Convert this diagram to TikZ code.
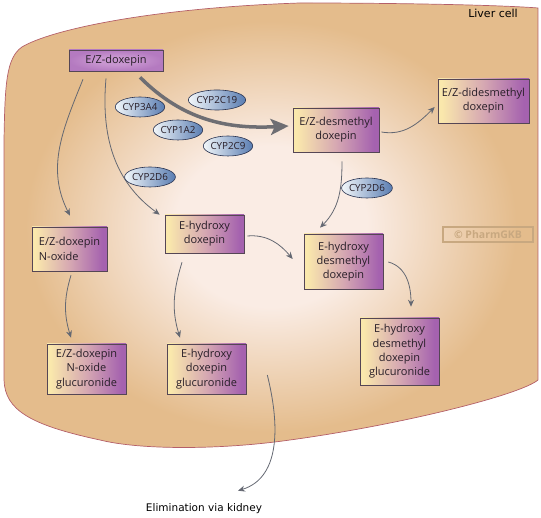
\documentclass[tikz,border=0pt]{standalone}
\usepackage{fontspec}
\setmainfont{Open Sans}
\newfontfamily\handfont{DejaVu Sans}
\usetikzlibrary{arrows.meta,shapes.geometric}

\definecolor{tanC}{RGB}{228,188,140}
\definecolor{lightC}{RGB}{250,236,228}
\definecolor{cellB}{RGB}{180,95,105}
\definecolor{boxY}{RGB}{250,232,172}
\definecolor{boxM}{RGB}{214,168,178}
\definecolor{boxP}{RGB}{165,98,175}
\definecolor{boxB}{RGB}{85,70,85}
\definecolor{doxIn}{RGB}{200,150,208}
\definecolor{doxOut}{RGB}{180,122,192}
\definecolor{enzL}{RGB}{242,247,250}
\definecolor{enzR}{RGB}{90,125,178}
\definecolor{enzB}{RGB}{40,50,80}
\definecolor{arrC}{RGB}{100,104,114}
\definecolor{bigC}{RGB}{110,110,115}
\definecolor{textC}{RGB}{40,30,40}
\definecolor{wmC}{RGB}{200,168,128}

\pgfdeclareradialshading{cellsh}{\pgfpoint{0bp}{0bp}}{color(0bp)=(lightC); color(9bp)=(lightC); color(23bp)=(tanC); color(50bp)=(tanC)}
\pgfdeclarehorizontalshading{boxsh}{100bp}{color(0bp)=(boxY); color(27bp)=(boxY); color(50bp)=(boxM); color(72bp)=(boxP); color(100bp)=(boxP)}
\pgfdeclareradialshading{doxsh}{\pgfpoint{0bp}{0bp}}{color(0bp)=(doxIn); color(10bp)=(doxIn); color(25bp)=(doxOut); color(50bp)=(doxOut)}

\tikzset{
  metab/.style={draw=boxB, line width=0.6pt, shade, shading=boxsh, align=center,
    inner sep=0pt, text=textC, font=\fontsize{11}{14.3}\selectfont},
  enz/.style={ellipse, draw=enzB, line width=0.6pt, left color=enzL, right color=enzR,
    minimum width=49pt, minimum height=20pt, inner sep=0pt, text=textC,
    font=\fontsize{9.8}{11}\selectfont},
  arr/.style={draw=arrC, line width=0.8pt, -{Stealth[length=7pt,width=6pt]}},
  bigarr/.style={draw=bigC, line width=3.5pt, -{Stealth[length=18pt,width=16pt,inset=4pt]}},
  handtext/.style={text=black, font=\handfont\fontsize{10.5}{12}\selectfont, inner sep=0pt},
}

\begin{document}
\begin{tikzpicture}[x=1pt,y=1pt]
\useasboundingbox (0,0) rectangle (541,518);

% liver cell
\path[draw=cellB, line width=0.7pt, shade, shading=cellsh]
  (4,378) .. controls (5,433) and (6,460) .. (22,471)
  .. controls (50,488) and (150,510) .. (300,515)
  .. controls (400,515) and (500,513) .. (538,510)
  -- (538,138)
  .. controls (520,123) and (400,93) .. (290,78)
  .. controls (220,68) and (140,68) .. (100,78)
  .. controls (30,93) and (5,108) .. (4,138) -- cycle;

\node[handtext, font=\handfont\fontsize{11}{12}\selectfont] (liver) at (493,505) {Liver cell};

% watermark
\node[draw=wmC, line width=1.3pt, text=wmC, minimum width=90pt, minimum height=15pt,
  inner sep=0pt, font=\bfseries\fontsize{10.5}{12}\selectfont] (wm) at (488,283.5) {© PharmGKB};

% metabolites
\node[draw=boxB, line width=0.6pt, shade, shading=doxsh, inner sep=0pt, text=textC,
  font=\fontsize{11}{14.3}\selectfont, minimum width=94pt, minimum height=21pt] (dox) at (116,457.5) {E/Z-doxepin};
\node[metab, minimum width=86pt, minimum height=44pt] (dsm) at (336,388) {E/Z-desmethyl\\doxepin};
\node[metab, minimum width=91pt, minimum height=44pt] (ddsm) at (483.5,417) {E/Z-didesmethyl\\doxepin};
\node[metab, minimum width=75pt, minimum height=44pt, align=left] (nox) at (69.5,269) {E/Z-doxepin\\N-oxide};
\node[metab, minimum width=79pt, minimum height=38pt] (ohd) at (204.5,284) {E-hydroxy\\doxepin};
\node[metab, minimum width=79pt, minimum height=50pt] (noxg) at (86.5,149) {E/Z-doxepin\\N-oxide\\glucuronide};
\node[metab, minimum width=79pt, minimum height=50pt] (ohdg) at (206.5,149) {E-hydroxy\\doxepin\\glucuronide};
\node[metab, minimum width=79pt, minimum height=55pt] (ohdm) at (343.5,256.5) {E-hydroxy\\desmethyl\\doxepin};
\node[metab, minimum width=79pt, minimum height=67pt] (ohdmg) at (399.5,166.5) {E-hydroxy\\desmethyl\\doxepin\\glucuronide};

\node[handtext] (elim) at (204,9) {Elimination via kidney};

% arrows
\draw[bigarr] ([shift={(24,-6)}]dox.south) to[out=-45,in=183] ([shift={(-4,4)}]dsm.west);
\draw[arr] ([shift={(-33,-8)}]dox.south) to[out=248,in=117] ([shift={(0.5,11)}]nox.north);
\draw[arr] ([shift={(-10,-7)}]dox.south) to[out=265,in=144] ([shift={(-5,0)}]ohd.north west);
\draw[arr] ([shift={(2,-2)}]dsm.east) to[out=-10,in=225] ([shift={(-3,-6)}]ddsm.west);
\draw[arr] ([shift={(6,-9)}]dsm.south) to[out=-90,in=45] ([shift={(-23.5,6)}]ohdm.north);
\draw[arr] ([shift={(3,-2)}]ohd.east) to[out=5,in=130] ([shift={(-11,2.5)}]ohdm.west);
\draw[arr] ([shift={(5,-0.5)}]ohdm.east) to[out=-15,in=90] ([shift={(11.5,11)}]ohdmg.north);
\draw[arr] ([shift={(1.5,-4)}]nox.south) to[out=253,in=107] ([shift={(-15.5,6)}]noxg.north);
\draw[arr] ([shift={(-22.5,-9)}]ohd.south) to[out=253,in=107] ([shift={(-26.5,6)}]ohdg.north);
\draw[arr] ([shift={(21,-6)}]ohdg.east) to[out=-76,in=17] ([shift={(34,13)}]elim.north);

% enzymes
\node[enz] (e3a4) at (140,411) {CYP3A4};
\node[enz] (e2c19) at (217,418) {CYP2C19};
\node[enz] (e1a2) at (178,388) {CYP1A2};
\node[enz] (e2c9) at (228,372) {CYP2C9};
\node[enz] (e2d6a) at (150,341) {CYP2D6};
\node[enz] (e2d6b) at (367,330) {CYP2D6};
\end{tikzpicture}
\end{document}
